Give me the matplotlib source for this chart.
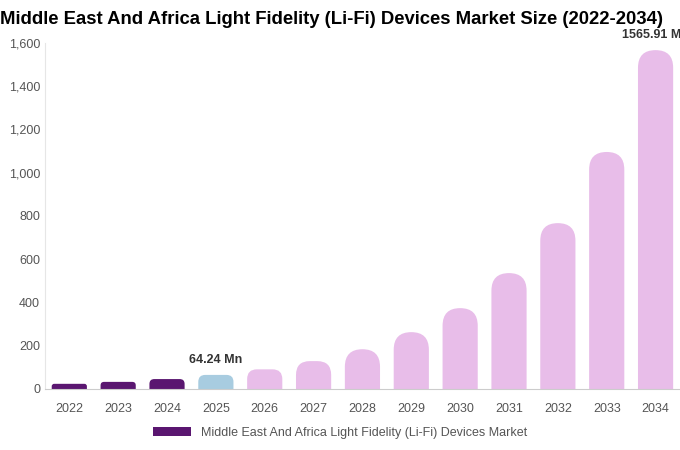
import matplotlib.pyplot as plt
from matplotlib.patches import FancyBboxPatch, Patch

years = ['2022', '2023', '2024', '2025', '2026', '2027', '2028', '2029', '2030', '2031', '2032', '2033', '2034']
values = [23, 32, 45, 64.24, 90, 128, 183, 262, 373, 535, 766, 1095, 1565.91]
colors = ['#5a1670'] * 3 + ['#a8cce0'] + ['#e8bde9'] * 9

plt.rcParams['font.family'] = ['Liberation Sans', 'DejaVu Sans']
fig = plt.figure(figsize=(6.8, 4.5), dpi=100)
ax = fig.add_axes([0.066, 0.136, 0.934, 0.769])

ax.set_xlim(-0.5, len(years) - 0.5)
ax.set_ylim(0, 1600)
w = 0.72
# px per data unit in x and y, used to make round caps circular
px_x = 0.934 * 680 / len(years)
px_y = 0.769 * 450 / 1600
aspect = px_x / px_y
for i, (v, c) in enumerate(zip(values, colors)):
    r = min(w / 2, v / aspect * 0.5)
    y0 = -r * aspect
    p = FancyBboxPatch((i - w / 2, y0), w, v - y0,
                       boxstyle=f"round,pad=0,rounding_size={r}",
                       mutation_aspect=aspect, fc=c, ec='none')
    ax.add_patch(p)

ax.text(3, 64.24 + 40, '64.24 Mn', ha='center', va='bottom', fontsize=9, fontweight='bold', color='#333333')
ax.text(12, 1565.91 + 40, '1565.91 Mn', ha='center', va='bottom', fontsize=9, fontweight='bold', color='#333333', clip_on=False)

ax.set_xticks(range(len(years)))
ax.set_xticklabels(years)
ax.set_yticks(range(0, 1601, 200))
ax.set_yticklabels([f'{t:,}' for t in range(0, 1601, 200)])
ax.tick_params(length=0, labelsize=9, colors='#555555')
ax.tick_params(axis='x', pad=10)
for s in ['top', 'right']:
    ax.spines[s].set_visible(False)
ax.spines['left'].set_color('#e6e6e6')
ax.spines['bottom'].set_color('#cccccc')

fig.text(0.0, 0.975, 'Middle East And Africa Light Fidelity (Li-Fi) Devices Market Size (2022-2034)',
         fontsize=13.3, fontweight='bold', ha='left', va='top')
fig.legend(handles=[Patch(fc='#5a1670', label='Middle East And Africa Light Fidelity (Li-Fi) Devices Market')],
           loc='lower center', bbox_to_anchor=(0.5, 0.0), frameon=False, fontsize=9,
           handlelength=3, labelcolor='#555555')
fig.savefig('out.png')
